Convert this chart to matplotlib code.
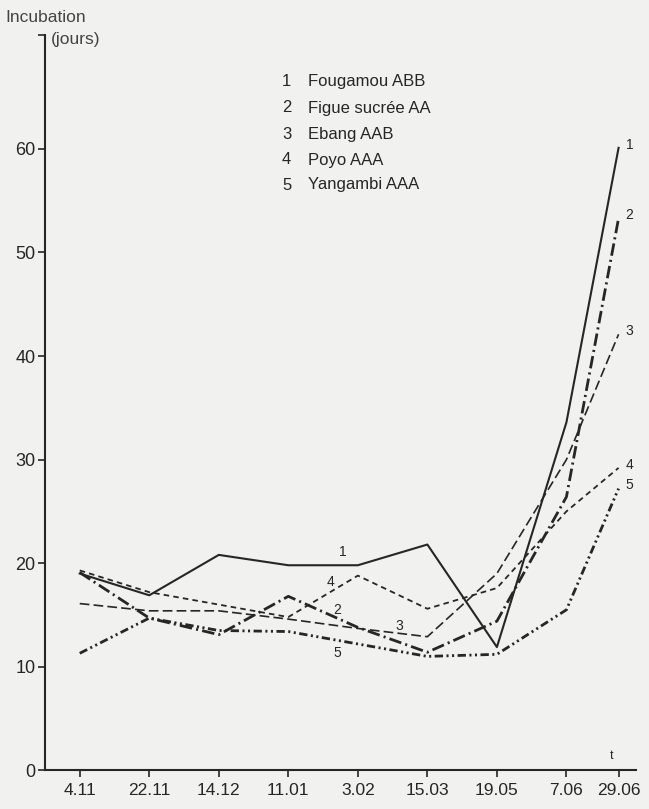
import matplotlib
matplotlib.use('Agg')
import matplotlib.pyplot as plt

plt.rcParams['font.family'] = ['Liberation Sans', 'DejaVu Sans']
plt.rcParams['lines.scale_dashes'] = False

# dates de prélèvement et incubation (jours)
dates = ['4.11', '22.11', '14.12', '11.01', '3.02', '15.03', '19.05', '7.06', '29.06']
x_pos = [0, 1, 2, 3, 4, 5, 6, 7, 7.75]

fougamou = [19.0, 16.9, 20.8, 19.8, 19.8, 21.8, 11.9, 33.6, 60.1]
figue = [19.1, 14.7, 13.1, 16.8, 13.8, 11.4, 14.4, 26.4, 53.3]
ebang = [16.1, 15.4, 15.4, 14.6, 13.7, 12.9, 19.0, 30.0, 42.1]
poyo = [19.3, 17.2, 16.0, 14.8, 18.8, 15.6, 17.6, 25.0, 29.2]
yangambi = [11.3, 14.7, 13.5, 13.4, 12.2, 11.0, 11.2, 15.5, 27.2]

noms = ['Fougamou ABB', 'Figue sucrée AA', 'Ebang AAB', 'Poyo AAA', 'Yangambi AAA']

bg = '#f1f1ef'
ink = '#262626'

fig = plt.figure(figsize=(6.49, 8.09), dpi=100, facecolor=bg)
ax = fig.add_axes([0.0693, 0.0478, 0.9106, 0.909], facecolor=bg)

ax.plot(x_pos, fougamou, color=ink, lw=1.5, linestyle='solid')
ax.plot(x_pos, figue, color=ink, lw=2.0, dashes=(9, 3, 1.5, 3))
ax.plot(x_pos, ebang, color=ink, lw=1.2, dashes=(7, 3))
ax.plot(x_pos, poyo, color=ink, lw=1.3, dashes=(4, 3))
ax.plot(x_pos, yangambi, color=ink, lw=2.0, dashes=(6, 2.5, 1.5, 2.5, 1.5, 2.5))

# étiquettes des courbes
fin = [fougamou[-1], figue[-1], ebang[-1], poyo[-1], yangambi[-1]]
for i, v in enumerate(fin):
    ax.text(x_pos[-1] + 0.1, v + 0.3, str(i + 1), fontsize=10, color=ink,
            ha='left', va='center')
ax.text(3.78, 21.1, '1', fontsize=10, color=ink, ha='center', va='center')
ax.text(3.61, 18.2, '4', fontsize=10, color=ink, ha='center', va='center')
ax.text(3.70, 15.5, '2', fontsize=10, color=ink, ha='center', va='center')
ax.text(4.60, 13.9, '3', fontsize=10, color=ink, ha='center', va='center')
ax.text(3.71, 11.3, '5', fontsize=10, color=ink, ha='center', va='center')
ax.text(7.65, 1.4, 't', fontsize=9, color=ink, ha='center', va='center')

ax.set_xlim(-0.5, 8.0)
ax.set_ylim(0, 71)
ax.set_xticks(x_pos)
ax.set_xticklabels(dates)
ax.set_yticks([0, 10, 20, 30, 40, 50, 60])
ax.set_yticks([71], minor=True)
ax.tick_params(axis='both', direction='out', length=5, width=1.2, color=ink,
               labelcolor=ink, labelsize=13, pad=2)
ax.tick_params(axis='y', which='minor', length=5, width=1.2, color=ink)
ax.tick_params(axis='x', labelsize=12.5, pad=4)

for s in ['top', 'right']:
    ax.spines[s].set_visible(False)
for s in ['left', 'bottom']:
    ax.spines[s].set_color(ink)
    ax.spines[s].set_linewidth(1.5)

fig.text(0.008, 0.978, 'Incubation', fontsize=12.5, color='#444', ha='left', va='center')
fig.text(0.078, 0.951, '(jours)', fontsize=12.5, color='#444', ha='left', va='center')

rows = [81.7, 108, 134.5, 160, 185]
for i, nom in enumerate(noms):
    fig.text(282 / 649, 1 - rows[i] / 809, str(i + 1), fontsize=12, color=ink,
             ha='left', va='center')
    fig.text(308 / 649, 1 - rows[i] / 809, nom, fontsize=12, color=ink,
             ha='left', va='center')

fig.savefig('out.png', dpi=100, facecolor=bg)
